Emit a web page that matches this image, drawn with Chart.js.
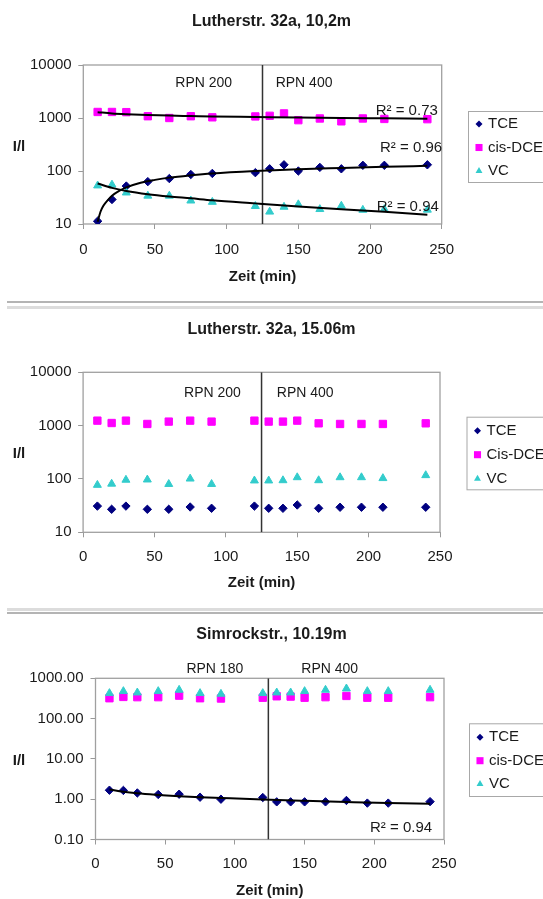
<!DOCTYPE html>
<html>
<head>
<meta charset="utf-8">
<script src="https://cdn.jsdelivr.net/npm/chart.js@4.4.1/dist/chart.umd.min.js"></script>
<style>
  html, body { margin: 0; padding: 0; background: #fff; overflow: hidden; }
  body { width: 543px; height: 899px; position: relative; }
  canvas { position: absolute; left: 0; }
  .sep { position: absolute; left: 7px; right: 0; }
</style>
</head>
<body>
<canvas id="c1" width="543" height="300" style="top:0"></canvas>
<canvas id="c2" width="543" height="295" style="top:310px"></canvas>
<canvas id="c3" width="543" height="290" style="top:612px"></canvas>
<div class="sep" style="top:301px;height:2px;background:#b4b4b4"></div>
<div class="sep" style="top:306px;height:3px;background:#dcdcdc"></div>
<div class="sep" style="top:608px;height:3px;background:#dcdcdc"></div>
<div class="sep" style="top:612px;height:2px;background:#b4b4b4"></div>
<script>
// ─── Data ──────────────────────────────────────────────────────
const times = [10, 20, 30, 45, 60, 75, 90, 120, 130, 140, 150, 165, 180, 195, 210, 240];
const xTicks = [0, 50, 100, 150, 200, 250];
const yTicksLuther = [10, 100, 1000, 10000];
const yTicksSimrock = [0.1, 1, 10, 100, 1000];

// Lutherstr. 32a, 10,2m
const tce1 = [11.3, 29, 52, 63, 72, 86, 90, 93, 110, 131, 100, 117, 110, 128, 128, 131];
const dce1 = [1300, 1300, 1290, 1080, 1000, 1080, 1030, 1070, 1100, 1220, 910, 980, 865, 980, 960, 950];
const vc1  = [53, 55, 39, 34, 34, 27.5, 26, 21.7, 17, 21, 23.4, 19, 22, 18.4, 19, 18.5];
// trend lines as drawn in the picture
const tceFitX1 = [10, 12, 14, 17, 20, 25, 30, 40, 50, 60, 75, 90, 120, 150, 180, 210, 240];
const tceFit1  = [11, 17, 22, 28, 34, 42, 49, 60, 68, 75, 83, 90, 100, 108, 114, 120, 125];
const fitX     = [10, 20, 30, 45, 60, 75, 90, 120, 150, 180, 210, 240];
const dceFit1  = [1290, 1220, 1180, 1140, 1110, 1090, 1070, 1045, 1020, 1000, 985, 970];
const vcFit1   = [58, 48, 42, 36.5, 33, 30.5, 28, 24.5, 21.5, 19, 17, 15];

// Lutherstr. 32a, 15.06m
const tce2 = [31, 27, 31, 27, 27, 29.8, 28.2, 31, 28.2, 28.2, 32.5, 28.2, 29.5, 29.5, 29.5, 29.5];
const dce2 = [1240, 1120, 1240, 1075, 1190, 1240, 1190, 1240, 1190, 1190, 1240, 1105, 1075, 1075, 1075, 1105];
const vc2  = [77, 81, 96, 97, 80, 101, 80, 93, 93, 94, 107, 94, 107, 107, 103, 117];

// Simrockstr., 10.19m
const tce3 = [1.67, 1.65, 1.43, 1.31, 1.33, 1.12, 1.0, 1.1, 0.86, 0.86, 0.86, 0.86, 0.93, 0.8, 0.8, 0.87];
const dce3 = [320, 345, 340, 340, 371, 320, 315, 330, 358, 352, 330, 340, 365, 330, 330, 340];
const vc3  = [426, 477, 441, 477, 514, 426, 409, 426, 441, 441, 477, 514, 555, 477, 477, 514];
const tceFit3 = [1.74, 1.53, 1.40, 1.28, 1.19, 1.12, 1.07, 0.98, 0.91, 0.85, 0.80, 0.77];

const FONT = '"Liberation Sans", Arial, sans-serif';
const NAVY = '#000080', MAGENTA = '#ff00ff', TURQ = '#33cccc';
Chart.defaults.font.family = FONT;
Chart.defaults.color = '#1a1a1a';

// ─── Plot frame, y title, notes, R² labels and boxed legend ────
const decoPlugin = {
  id: 'deco',
  beforeDatasetsDraw(chart) {
    const { ctx, chartArea: a } = chart;
    ctx.save();
    ctx.strokeStyle = '#a0a0a0';
    ctx.lineWidth = 1.3;
    ctx.strokeRect(a.left, a.top, a.right - a.left, a.bottom - a.top);
    ctx.restore();
  },
  afterDraw(chart, args, o) {
    const { ctx, chartArea: a, scales: { x } } = chart;
    ctx.save();
    ctx.fillStyle = '#1a1a1a';
    ctx.textBaseline = 'middle';
    ctx.textAlign = 'center';
    ctx.font = 'bold 15px ' + FONT;
    ctx.fillText('I/l', 19, (a.top + a.bottom) / 2 + 2);

    ctx.font = '14px ' + FONT;
    o.notes.forEach(n => ctx.fillText(n.text, x.getPixelForValue(n.x), a.top + n.dy));

    ctx.font = '15px ' + FONT;
    ctx.textAlign = 'left';
    o.r2.forEach(r => ctx.fillText(r.text, a.right + r.dx, a.top + r.dy));

    const lg = o.legend;
    ctx.strokeStyle = '#a8a8a8';
    ctx.lineWidth = 1;
    ctx.strokeRect(lg.x + 0.5, lg.y + 0.5, 200, lg.h);
    chart.data.datasets.slice(0, 3).forEach((d, i) => {
      const cy = lg.y + lg.first + i * lg.step;
      ctx.fillStyle = d.backgroundColor;
      Chart.helpers.drawPoint(ctx, { pointStyle: d.pointStyle, radius: lg.sizes[i], rotation: 0, borderWidth: 0 }, lg.x + 11, cy);
      ctx.fillStyle = '#1a1a1a';
      ctx.fillText(d.label, lg.x + 20, cy);
    });
    ctx.restore();
  }
};

function makeChart(id, s) {
  const pts = vals => times.map((t, i) => ({ x: t, y: vals[i] }));
  const line = (xs, ys) => xs.map((t, i) => ({ x: t, y: ys[i] }));
  const datasets = [
    { label: 'TCE', data: pts(s.tce), pointStyle: 'rectRot', pointRadius: 4.2,
      backgroundColor: NAVY, borderColor: NAVY, pointBorderWidth: 1, order: 2 },
    { label: s.dceLabel, data: pts(s.dce), pointStyle: 'rect', pointRadius: 5.2,
      backgroundColor: MAGENTA, borderColor: MAGENTA, pointBorderWidth: 1, order: 1 },
    { label: 'VC', data: pts(s.vc), pointStyle: 'triangle', pointRadius: 4.6,
      backgroundColor: TURQ, borderColor: TURQ, pointBorderWidth: 1, order: 0 },
    { label: '', data: [{ x: s.switchAt, y: s.yTicks[0] }, { x: s.switchAt, y: s.yTicks[s.yTicks.length - 1] }],
      showLine: true, pointRadius: 0, borderColor: '#333', borderWidth: 1.5, order: -1 }
  ];
  s.fits.forEach(f => datasets.push({
    label: '', data: line(f.x, f.y), showLine: true, pointRadius: 0,
    borderColor: '#000', borderWidth: 2, cubicInterpolationMode: 'monotone', order: -2
  }));

  return new Chart(document.getElementById(id), {
    type: 'scatter',
    data: { datasets },
    plugins: [decoPlugin],
    options: {
      responsive: false,
      animation: false,
      events: [],
      layout: { padding: 0 },
      plugins: {
        legend: { display: false },
        tooltip: { enabled: false },
        title: {
          display: true, text: s.title, color: '#1a1a1a',
          font: { size: 16, weight: 'bold' },
          padding: { top: s.titlePad[0], bottom: s.titlePad[1] }
        },
        deco: { notes: s.notes, r2: s.r2, legend: s.legend }
      },
      scales: {
        x: {
          type: 'linear', min: 0, max: 250,
          afterBuildTicks: ax => { ax.ticks = xTicks.map(v => ({ value: v })); },
          afterFit: ax => { ax.height = s.xAxisH; },
          border: { display: false },
          grid: { drawOnChartArea: false, color: '#999', tickLength: 5 },
          ticks: { padding: s.xTickPad, color: '#1a1a1a', font: { size: 15 }, maxRotation: 0 },
          title: { display: true, text: 'Zeit (min)', color: '#1a1a1a',
                   font: { size: 15, weight: 'bold' }, padding: { top: 0, bottom: s.xTitlePad } }
        },
        y: {
          type: 'logarithmic', min: s.yTicks[0], max: s.yTicks[s.yTicks.length - 1],
          afterBuildTicks: ax => { ax.ticks = s.yTicks.map(v => ({ value: v })); },
          afterFit: ax => { ax.width = s.yAxisW; },
          border: { display: false },
          grid: { drawOnChartArea: false, color: '#999', tickLength: 5 },
          ticks: { padding: s.yTickPad, color: '#1a1a1a', font: { size: 15 },
                   callback: v => s.decimals ? Number(v).toFixed(2) : String(v) }
        },
        // empty right-hand axis: keeps room for the legend without shifting the title
        side: {
          type: 'linear', position: 'right', display: true,
          afterFit: ax => { ax.width = s.padRight; },
          border: { display: false },
          grid: { display: false },
          ticks: { display: false }
        }
      }
    }
  });
}

makeChart('c1', {
  title: 'Lutherstr. 32a, 10,2m', dceLabel: 'cis-DCE',
  tce: tce1, dce: dce1, vc: vc1, yTicks: yTicksLuther, switchAt: 125,
  fits: [{ x: tceFitX1, y: tceFit1 }, { x: fitX, y: dceFit1 }, { x: fitX, y: vcFit1 }],
  titlePad: [12.4, 33.4], xAxisH: 76, xTickPad: 12, xTitlePad: 14,
  yAxisW: 83.3, yTickPad: 6.6, padRight: 101.3,
  notes: [{ text: 'RPN 200', x: 84, dy: 18.3 }, { text: 'RPN 400', x: 154, dy: 18.3 }],
  r2: [{ text: 'R² = 0.73', dx: -66, dy: 45.7 }, { text: 'R² = 0.96', dx: -61.7, dy: 83.3 },
       { text: 'R² = 0.94', dx: -65, dy: 141.7 }],
  legend: { x: 468, y: 111, h: 71, first: 13, step: 23.5, sizes: [3.5, 5, 4] }
});

makeChart('c2', {
  title: 'Lutherstr. 32a, 15.06m', dceLabel: 'Cis-DCE',
  tce: tce2, dce: dce2, vc: vc2, yTicks: yTicksLuther, switchAt: 125,
  fits: [],
  titlePad: [10.4, 32.7], xAxisH: 72.7, xTickPad: 10.4, xTitlePad: 13.3,
  yAxisW: 83.1, yTickPad: 6.6, padRight: 103,
  notes: [{ text: 'RPN 200', x: 90.6, dy: 20.4 }, { text: 'RPN 400', x: 155.6, dy: 20.4 }],
  r2: [],
  legend: { x: 466.5, y: 106.7, h: 72.6, first: 14, step: 24, sizes: [3.5, 5, 4] }
});

makeChart('c3', {
  title: 'Simrockstr., 10.19m', dceLabel: 'cis-DCE', decimals: true,
  tce: tce3, dce: dce3, vc: vc3, yTicks: yTicksSimrock, switchAt: 124,
  fits: [{ x: fitX, y: tceFit3 }],
  titlePad: [12.7, 34.4], xAxisH: 62.5, xTickPad: 10.8, xTitlePad: 2,
  yAxisW: 95.5, yTickPad: 7, padRight: 99,
  notes: [{ text: 'RPN 180', x: 85.6, dy: -9.3 }, { text: 'RPN 400', x: 168, dy: -9.3 }],
  r2: [{ text: 'R² = 0.94', dx: -74, dy: 149.7 }],
  legend: { x: 469, y: 111.3, h: 72.7, first: 14, step: 23.4, sizes: [3.5, 5, 4] }
});
</script>
</body>
</html>
